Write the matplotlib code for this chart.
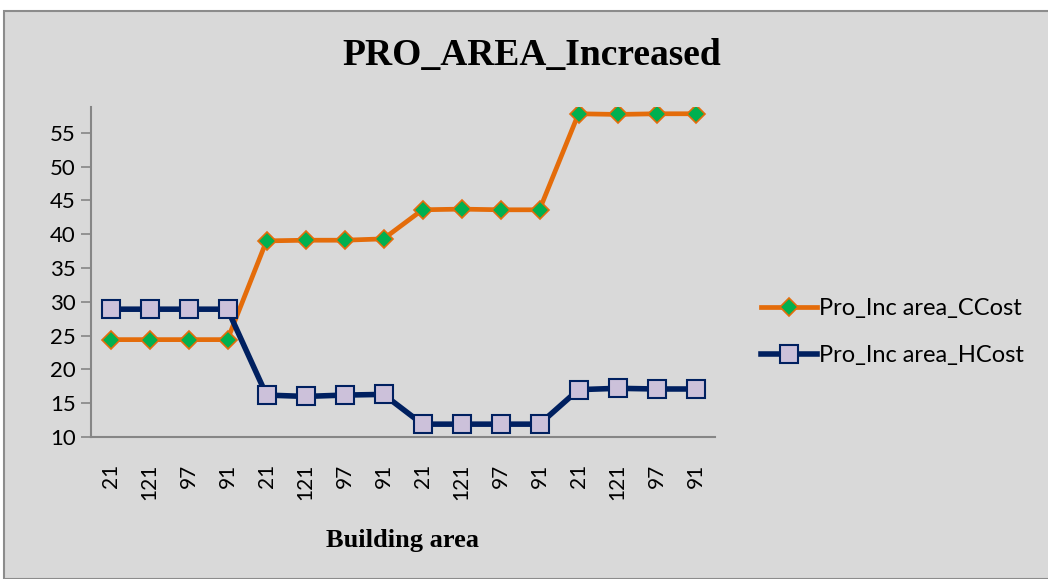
import matplotlib
matplotlib.use("Agg")
import matplotlib.pyplot as plt
from matplotlib.patches import Rectangle

categories = ["21", "121", "97", "91", "21", "121", "97", "91",
              "21", "121", "97", "91", "21", "121", "97", "91"]
ccost = [24.4, 24.4, 24.4, 24.4, 39.0, 39.1, 39.1, 39.3,
         43.6, 43.7, 43.6, 43.6, 57.8, 57.7, 57.8, 57.8]
hcost = [28.9, 28.9, 28.9, 28.9, 16.2, 16.0, 16.2, 16.3,
         11.9, 11.9, 11.9, 11.9, 17.0, 17.2, 17.1, 17.1]
series_names = ["Pro_Inc area_CCost", "Pro_Inc area_HCost"]
yticks = [10, 15, 20, 25, 30, 35, 40, 45, 50, 55]

bg = "#d9d9d9"
fig = plt.figure(figsize=(10.48, 5.79), dpi=100)
fig.patch.set_facecolor("white")
fig.patches.append(Rectangle((4 / 1048, 0), 1.0, 1 - 10.5 / 579,
                             transform=fig.transFigure, facecolor=bg,
                             edgecolor="#8c8c8c", linewidth=1.5, zorder=-10))

ax = fig.add_axes([91 / 1048, 1 - 437 / 579, (715 - 91) / 1048, (437 - 107) / 579])
ax.set_facecolor(bg)
ax.patch.set_alpha(0)

x = list(range(len(categories)))
ax.plot(x, ccost, color="#E46C0A", linewidth=3.4, marker="D", markersize=9.5,
        markerfacecolor="#00B050", markeredgecolor="#E46C0A", markeredgewidth=1.2,
        label=series_names[0], zorder=3)
ax.plot(x, hcost, color="#002060", linewidth=4, marker="s", markersize=13.5,
        markerfacecolor="#CCC1DA", markeredgecolor="#002060", markeredgewidth=1.5,
        label=series_names[1], zorder=3)

ax.set_xlim(-0.5, len(categories) - 0.5)
ax.set_ylim(10, 58.8)
ax.set_yticks(yticks)
ax.set_xticks(x)
ax.set_xticklabels(categories, rotation=90, fontsize=15, family="Lato")
for lab in ax.get_yticklabels():
    lab.set_family("Lato")
ax.tick_params(axis="y", labelsize=16, length=7, width=1.2, color="#868686", pad=4)
ax.tick_params(axis="x", length=0, pad=19)

for s in ["top", "right"]:
    ax.spines[s].set_visible(False)
for s in ["left", "bottom"]:
    ax.spines[s].set_color("#868686")
    ax.spines[s].set_linewidth(1.5)

fig.text(532 / 1048, 1 - 55 / 579, "PRO_AREA_Increased", ha="center", va="center",
         fontsize=27, fontweight="bold", family="Liberation Serif")
fig.text(403 / 1048, 1 - 540 / 579, "Building area", ha="center", va="center",
         fontsize=19, fontweight="bold", family="Liberation Serif")

leg = fig.legend(loc="center left", bbox_to_anchor=(740 / 1048, 1 - 332 / 579),
                 frameon=False, prop={"family": "Lato", "size": 17},
                 handlelength=2.35, handletextpad=0.1, labelspacing=1.1)

fig.savefig("out.png", dpi=100, facecolor=fig.get_facecolor())
